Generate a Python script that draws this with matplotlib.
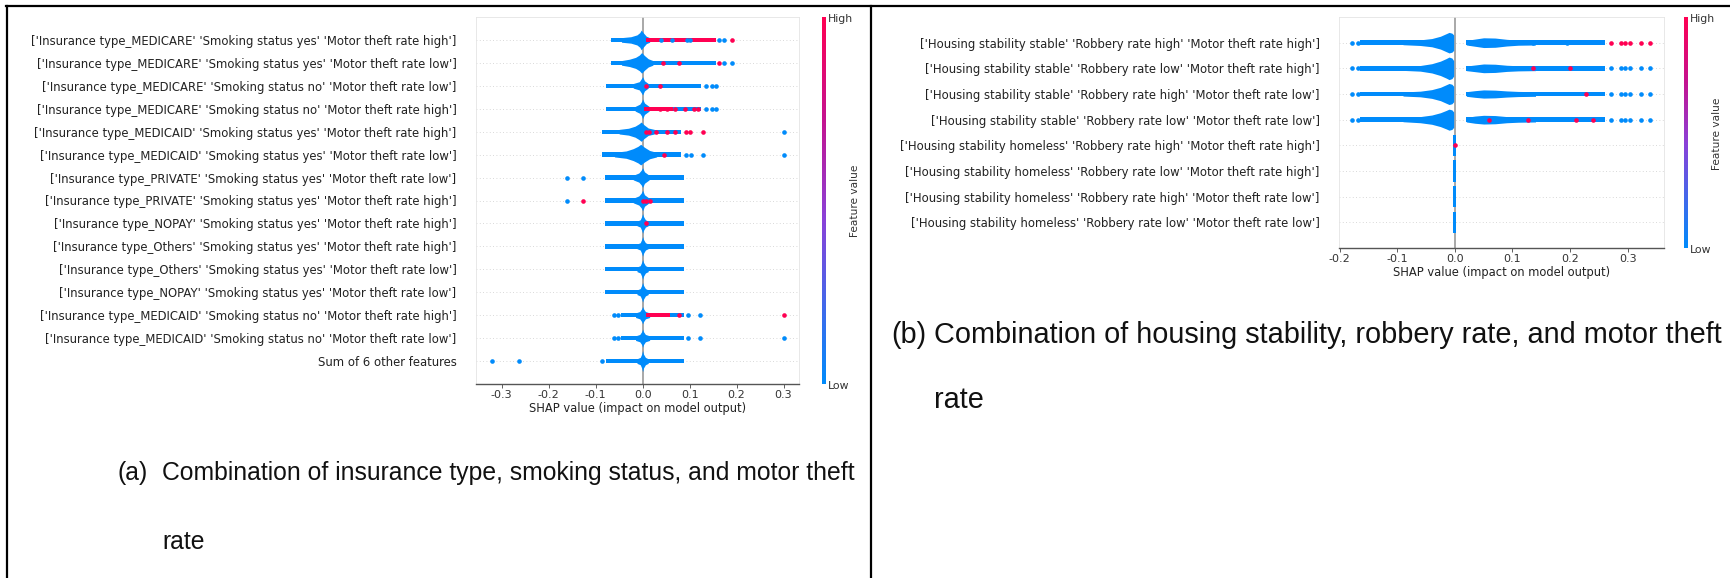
import matplotlib
matplotlib.use('Agg')
import matplotlib.pyplot as plt
from matplotlib.colors import LinearSegmentedColormap, Normalize
from matplotlib.cm import ScalarMappable
from matplotlib.lines import Line2D
import numpy as np

BLUE = '#008bfb'
RED = '#ff0052'
cmap = LinearSegmentedColormap.from_list(
    'shap_red_blue', [(0, BLUE), (0.45, '#8a41d8'), (0.72, '#c4128f'), (1, RED)])

W, H = 1730, 578

# ---- panel (a): insurance type x smoking status x motor theft rate ----
a_labels = [
    "['Insurance type_MEDICARE' 'Smoking status yes' 'Motor theft rate high']",
    "['Insurance type_MEDICARE' 'Smoking status yes' 'Motor theft rate low']",
    "['Insurance type_MEDICARE' 'Smoking status no' 'Motor theft rate low']",
    "['Insurance type_MEDICARE' 'Smoking status no' 'Motor theft rate high']",
    "['Insurance type_MEDICAID' 'Smoking status yes' 'Motor theft rate high']",
    "['Insurance type_MEDICAID' 'Smoking status yes' 'Motor theft rate low']",
    "['Insurance type_PRIVATE' 'Smoking status yes' 'Motor theft rate low']",
    "['Insurance type_PRIVATE' 'Smoking status yes' 'Motor theft rate high']",
    "['Insurance type_NOPAY' 'Smoking status yes' 'Motor theft rate high']",
    "['Insurance type_Others' 'Smoking status yes' 'Motor theft rate high']",
    "['Insurance type_Others' 'Smoking status yes' 'Motor theft rate low']",
    "['Insurance type_NOPAY' 'Smoking status yes' 'Motor theft rate low']",
    "['Insurance type_MEDICAID' 'Smoking status no' 'Motor theft rate high']",
    "['Insurance type_MEDICAID' 'Smoking status no' 'Motor theft rate low']",
    "Sum of 6 other features",
]
# dense band of each row (SHAP value range)
a_core_lo = [-0.067, -0.067, -0.078, -0.078, -0.086, -0.086, -0.079, -0.079,
             -0.079, -0.079, -0.079, -0.079, -0.045, -0.045, -0.077]
a_core_hi = [0.156, 0.156, 0.124, 0.124, 0.081, 0.081, 0.089, 0.089,
             0.089, 0.089, 0.089, 0.089, 0.088, 0.088, 0.089]
# pile-up near zero: x positions and half height (in rows)
a_bulge_x = [
    [-0.045, -0.025, -0.012, -0.006, -0.003, 0.002, 0.008, 0.015],
    [-0.045, -0.028, -0.015, -0.007, -0.002, 0.004, 0.012, 0.022],
    [-0.02, -0.007, -0.003, 0.0, 0.004, 0.012],
    [-0.016, -0.006, -0.002, 0.0, 0.004, 0.014],
    [-0.05, -0.03, -0.016, -0.008, -0.003, 0.003, 0.012, 0.025],
    [-0.06, -0.035, -0.02, -0.01, -0.004, 0.004, 0.015, 0.03],
    [-0.02, -0.008, -0.003, 0.0, 0.004, 0.014],
    [-0.02, -0.008, -0.003, 0.0, 0.004, 0.014],
    [-0.012, -0.005, -0.002, 0.0, 0.002, 0.006, 0.012],
    [-0.012, -0.005, -0.002, 0.0, 0.002, 0.006, 0.012],
    [-0.012, -0.005, -0.002, 0.0, 0.002, 0.006, 0.012],
    [-0.012, -0.005, -0.002, 0.0, 0.002, 0.006, 0.012],
    [-0.015, -0.006, -0.002, 0.0, 0.002, 0.006, 0.015],
    [-0.015, -0.006, -0.002, 0.0, 0.002, 0.006, 0.015],
    [-0.012, -0.005, -0.002, 0.0, 0.002, 0.006, 0.012],
]
a_bulge_h = [
    [0.1, 0.14, 0.22, 0.32, 0.43, 0.3, 0.16, 0.1],
    [0.1, 0.16, 0.24, 0.34, 0.45, 0.32, 0.18, 0.1],
    [0.1, 0.18, 0.3, 0.4, 0.22, 0.1],
    [0.1, 0.2, 0.32, 0.43, 0.25, 0.1],
    [0.1, 0.15, 0.24, 0.34, 0.42, 0.3, 0.16, 0.1],
    [0.1, 0.16, 0.26, 0.36, 0.45, 0.32, 0.18, 0.1],
    [0.1, 0.2, 0.32, 0.43, 0.25, 0.1],
    [0.1, 0.2, 0.32, 0.45, 0.25, 0.1],
    [0.1, 0.16, 0.3, 0.43, 0.3, 0.16, 0.1],
    [0.1, 0.16, 0.3, 0.43, 0.3, 0.16, 0.1],
    [0.1, 0.16, 0.3, 0.43, 0.3, 0.16, 0.1],
    [0.1, 0.16, 0.3, 0.43, 0.3, 0.16, 0.1],
    [0.1, 0.16, 0.28, 0.38, 0.28, 0.16, 0.1],
    [0.1, 0.16, 0.28, 0.4, 0.28, 0.16, 0.1],
    [0.1, 0.16, 0.3, 0.46, 0.3, 0.16, 0.1],
]
# isolated points, low / high feature value
a_low_pts = [
    [0.163, 0.174], [0.174, 0.191], [0.134, 0.147, 0.157], [0.134, 0.147, 0.157],
    [0.301], [0.092, 0.102, 0.128, 0.301], [-0.162, -0.126], [-0.162],
    [], [], [], [], [-0.06, -0.052, 0.097, 0.122],
    [-0.06, -0.052, 0.097, 0.122, 0.301], [-0.321, -0.264, -0.086],
]
a_high_pts = [
    [0.191], [0.044, 0.077, 0.163], [0.007, 0.037],
    [0.037, 0.052, 0.069, 0.091, 0.109, 0.118],
    [0.007, 0.014, 0.028, 0.051, 0.069, 0.092, 0.101, 0.128],
    [0.045], [], [-0.126, 0.0, 0.008, 0.015], [0.007], [], [], [],
    [0.078, 0.301], [], [],
]
# low-value points sitting inside the high-value runs
a_low_in_runs = [[0.04, 0.062, 0.095, 0.1], [], [], [], [], [], [], [], [], [], [], [], [], [], []]
# (row, lo, hi) runs where high feature values dominate
a_high_runs = [(0, 0.008, 0.156), (3, 0.003, 0.065), (12, 0.007, 0.058)]
a_xticks = [-0.3, -0.2, -0.1, 0.0, 0.1, 0.2, 0.3]

# ---- panel (b): housing stability x robbery rate x motor theft rate ----
b_labels = [
    "['Housing stability stable' 'Robbery rate high' 'Motor theft rate high']",
    "['Housing stability stable' 'Robbery rate low' 'Motor theft rate high']",
    "['Housing stability stable' 'Robbery rate high' 'Motor theft rate low']",
    "['Housing stability stable' 'Robbery rate low' 'Motor theft rate low']",
    "['Housing stability homeless' 'Robbery rate high' 'Motor theft rate high']",
    "['Housing stability homeless' 'Robbery rate low' 'Motor theft rate high']",
    "['Housing stability homeless' 'Robbery rate high' 'Motor theft rate low']",
    "['Housing stability homeless' 'Robbery rate low' 'Motor theft rate low']",
]
b_neg_lo = [-0.165, -0.165, -0.165, -0.165, None, None, None, None]
b_neg_hi = [-0.003, -0.003, -0.003, -0.003, None, None, None, None]
b_pos_lo = [0.02, 0.02, 0.02, 0.02, None, None, None, None]
b_pos_hi = [0.26, 0.26, 0.26, 0.26, None, None, None, None]
b_pos_value = [1, 0, 0, 0, 0, 0, 0, 0]   # dominant feature value of positive band
b_neg_bulge_x = [-0.09, -0.06, -0.04, -0.025, -0.015, -0.01, -0.005, -0.002]
b_neg_bulge_h = [
    [0.08, 0.11, 0.16, 0.25, 0.35, 0.4, 0.37, 0.3],
    [0.08, 0.11, 0.18, 0.28, 0.38, 0.44, 0.4, 0.3],
    [0.08, 0.11, 0.17, 0.26, 0.36, 0.41, 0.38, 0.3],
    [0.08, 0.12, 0.18, 0.27, 0.36, 0.41, 0.38, 0.3],
]
b_pos_bulge_x = [0.02, 0.035, 0.05, 0.07, 0.09, 0.11, 0.14]
b_pos_bulge_h = [
    [0.09, 0.14, 0.19, 0.18, 0.13, 0.1, 0.09],
    [0.09, 0.13, 0.17, 0.16, 0.12, 0.1, 0.09],
    [0.09, 0.13, 0.16, 0.15, 0.12, 0.1, 0.09],
    [0.09, 0.14, 0.17, 0.16, 0.12, 0.1, 0.09],
]
b_zero_h = [0.42, 0.42, 0.42, 0.42]   # rows 5-8 stacked at zero
b_low_pts = [
    [-0.179, -0.168, 0.026, 0.031, 0.136, 0.194],
    [-0.179, -0.168, 0.271, 0.288, 0.296, 0.304, 0.323, 0.338],
    [-0.179, -0.168, 0.271, 0.288, 0.296, 0.304, 0.323, 0.338],
    [-0.179, -0.168, 0.271, 0.288, 0.296, 0.304, 0.323, 0.338],
    [], [], [], [],
]
b_high_pts = [
    [0.271, 0.288, 0.296, 0.304, 0.323, 0.338],
    [0.135, 0.2], [0.228], [0.06, 0.127, 0.21, 0.24],
    [0.0], [], [], [],
]
b_xticks = [-0.2, -0.1, 0.0, 0.1, 0.2, 0.3]

LABEL_FS = 8.4
TICK_FS = 8.0
XLABEL_FS = 8.3
CB_FS = 7.8
CBLABEL_FS = 7.6


def fig_rect(x0, y0, x1, y1):
    return [x0 / W, 1 - y1 / H, (x1 - x0) / W, (y1 - y0) / H]


def setup_axes(ax, labels, xlim, xticks):
    n = len(labels)
    ax.set_xlim(*xlim)
    ax.set_ylim(-1, n)
    for y in range(n):
        ax.axhline(y, color='#cccccc', lw=0.6, dashes=(1, 3), zorder=0)
    ax.axvline(0, color='#999999', lw=1.2, zorder=1)
    ax.set_yticks(np.arange(n)[::-1])
    ax.set_yticklabels(labels, fontsize=LABEL_FS, color='#222222')
    ax.tick_params(axis='y', length=0, pad=14)
    ax.set_xticks(xticks)
    ax.set_xticklabels(['%.1f' % t if t != 0 else '0.0' for t in xticks],
                       fontsize=TICK_FS, color='#333333')
    ax.tick_params(axis='x', length=3, width=0.6, color='#444444', pad=1.5)
    ax.set_xlabel('SHAP value (impact on model output)', fontsize=XLABEL_FS,
                  color='#222222', labelpad=1)
    for s in ['top', 'left', 'right']:
        ax.spines[s].set_color('#e4e4e4')
        ax.spines[s].set_linewidth(0.6)
    ax.spines['bottom'].set_color('#555555')
    ax.spines['bottom'].set_linewidth(1.0)


def band(ax, lo, hi, y, r, color, z=2):
    ax.fill_between([lo, hi], y - r, y + r, color=color, lw=0, zorder=z)


def bulge(ax, xs, hs, y, color, z=2):
    xs = np.asarray(xs)
    hs = np.asarray(hs)
    ax.fill_between(xs, y - hs, y + hs, color=color, lw=0, zorder=z)


def points(ax, xs, y, color, z=4):
    if len(xs):
        ax.scatter(xs, [y] * len(xs), s=11, color=color, lw=0, zorder=z)


def colorbar(fig, rect, text_x, top_y, bot_y):
    cax = fig.add_axes(rect)
    cb = fig.colorbar(ScalarMappable(Normalize(0, 1), cmap), cax=cax)
    cb.outline.set_visible(False)
    cb.set_ticks([])
    fig.text(text_x / W, 1 - top_y / H, 'High', fontsize=CB_FS, color='#333333',
             va='center', ha='left')
    fig.text(text_x / W, 1 - bot_y / H, 'Low', fontsize=CB_FS, color='#333333',
             va='center', ha='left')


fig = plt.figure(figsize=(W / 100, H / 100), dpi=100)

# ---- panel (a) ----
ax = fig.add_axes(fig_rect(476, 17, 799, 384))
setup_axes(ax, a_labels, (-0.3547, 0.333), a_xticks)
n = len(a_labels)
ra = 0.095
for i in range(n):
    y = n - 1 - i
    band(ax, a_core_lo[i], a_core_hi[i], y, ra, BLUE)
    bulge(ax, a_bulge_x[i], a_bulge_h[i], y, BLUE)
for row, lo, hi in a_high_runs:
    band(ax, lo, hi, n - 1 - row, ra, RED, z=3)
for i in range(n):
    y = n - 1 - i
    points(ax, a_low_pts[i] + a_low_in_runs[i], y, BLUE)
    points(ax, a_high_pts[i], y, RED)

colorbar(fig, fig_rect(822, 17, 826, 384), 828, 19, 386)
fig.text(855 / W, 1 - 201 / H, 'Feature value', rotation=90, fontsize=CBLABEL_FS,
         color='#333333', va='center', ha='center')

# ---- panel (b) ----
bx = fig.add_axes(fig_rect(1339, 17, 1664, 248))
setup_axes(bx, b_labels, (-0.201, 0.363), b_xticks)
n = len(b_labels)
rb = 0.09
for i in range(n):
    y = n - 1 - i
    if b_neg_lo[i] is not None:
        band(bx, b_neg_lo[i], b_neg_hi[i], y, rb, BLUE)
        bulge(bx, b_neg_bulge_x, b_neg_bulge_h[i], y, BLUE)
    if b_pos_lo[i] is not None:
        col = cmap(b_pos_value[i])
        band(bx, b_pos_lo[i], b_pos_hi[i], y, rb, col)
        bulge(bx, b_pos_bulge_x, b_pos_bulge_h[i], y, col)
    else:
        bulge(bx, [-0.0028, 0.0028], [b_zero_h[i - 4]] * 2, y, BLUE)
    points(bx, b_low_pts[i], y, BLUE)
    points(bx, b_high_pts[i], y, RED)

colorbar(fig, fig_rect(1684, 17, 1688, 248), 1690, 19, 250)
fig.text(1717 / W, 1 - 134 / H, 'Feature value', rotation=90, fontsize=CBLABEL_FS,
         color='#333333', va='center', ha='center')

# ---- table borders ----
for xs, ys in [((6, W), (6, 6)), ((7, 7), (6, H)), ((871, 871), (6, H))]:
    fig.add_artist(Line2D([x / W for x in xs], [1 - y / H for y in ys],
                          transform=fig.transFigure, color='black', lw=1.6))

# ---- captions ----
cap_a = dict(fontsize=17.8, family='Liberation Sans', va='center', ha='left', color='#111111')
cap_b = dict(cap_a, fontsize=20.8)
fig.text(118 / W, 1 - 473 / H, '(a)', **cap_a)
fig.text(162 / W, 1 - 473 / H, 'Combination of insurance type, smoking status, and motor theft', **cap_a)
fig.text(162 / W, 1 - 542 / H, 'rate', **cap_a)
fig.text(891 / W, 1 - 335 / H, '(b)', **cap_b)
fig.text(934 / W, 1 - 335 / H, 'Combination of housing stability, robbery rate, and motor theft', **cap_b)
fig.text(934 / W, 1 - 400 / H, 'rate', **cap_b)

fig.savefig('out.png', dpi=100)
